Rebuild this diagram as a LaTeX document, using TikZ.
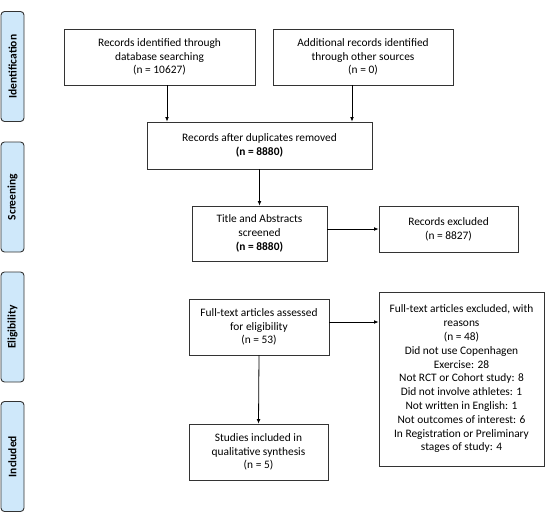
\documentclass[tikz,border=0pt]{standalone}
\usepackage{fontspec}
\setmainfont{Carlito}
\usetikzlibrary{arrows.meta}
\definecolor{sidefill}{HTML}{CFE8FA}
\definecolor{boxline}{HTML}{333333}
\tikzset{
  box/.style={draw=boxline, line width=0.8pt, fill=white, align=center, inner sep=2pt,
    font=\fontsize{11.4}{13.8}\selectfont},
  side/.style={draw=boxline, line width=0.9pt, fill=sidefill, rounded corners=3.5pt,
    minimum width=23pt, minimum height=110pt, inner sep=0pt},
  sidelab/.style={rotate=90, font=\fontsize{11.5}{13}\selectfont\bfseries},
  arr/.style={-{Latex[length=4.5pt,width=3.8pt]}, line width=0.8pt, draw=black}
}
\begin{document}
\begin{tikzpicture}[x=1pt,y=1pt]
\useasboundingbox (0,0) rectangle (559,-530);
% side labels
\node[side] (sid) at (12.5,-66.5) {};
\node[sidelab] (sidt) at (sid.center) {Identification};
\node[side] (sscr) at (12.5,-197) {};
\node[sidelab] (sscrt) at (sscr.center) {Screening};
\node[side] (selg) at (12.5,-327) {};
\node[sidelab] (selgt) at (selg.center) {Eligibility};
\node[side] (sinc) at (12.5,-456.5) {};
\node[sidelab] (sinct) at (sinc.center) {Included};
% boxes
\node[box, minimum width=191pt, minimum height=56pt] (b1) at (159.5,-57)
  {Records identified through\\database searching\\(n = 10627)};
\node[box, minimum width=180pt, minimum height=56pt] (b2) at (363,-57)
  {Additional records identified\\through other sources\\(n = 0)};
\node[box, minimum width=225pt, minimum height=47pt] (b3) at (259.5,-145.5)
  {Records after duplicates removed\\\textbf{(n = 8880)}};
\node[box, minimum width=135pt, minimum height=55pt] (b4) at (259.5,-233.5)
  {Title and Abstracts\\screened\\\textbf{(n = 8880)}};
\node[box, minimum width=139pt, minimum height=46pt] (b5) at (448.5,-229)
  {Records excluded\\(n = 8827)};
\node[box, minimum width=140pt, minimum height=56pt] (b6) at (259,-327)
  {Full-text articles assessed\\for eligibility\\(n = 53)};
\node[box, minimum width=165pt, minimum height=174pt, inner sep=4pt] (b7) at (461.5,-379)
  {Full-text articles excluded, with\\reasons\\(n = 48)\\Did not use Copenhagen\\Exercise: 28\\Not RCT or Cohort study: 8\\Did not involve athletes: 1\\Not written in English: 1\\Not outcomes of interest: 6\\In Registration or Preliminary\\stages of study: 4};
\node[box, minimum width=139pt, minimum height=56pt] (b8) at (258.5,-452)
  {Studies included in\\qualitative synthesis\\(n = 5)};
% arrows
\draw[arr] ([xshift=7.5pt]b1.south) -- ([xshift=7.5pt]b1.south |- b3.north);
\draw[arr] ([xshift=-11pt]b2.south) -- ([xshift=-11pt]b2.south |- b3.north);
\draw[arr] (b3.south) -- (b4.north);
\draw[arr] (b4.east |- b5.west) -- (b5.west);
\draw[arr] ([yshift=5pt]b6.east) -- ([yshift=5pt]b6.east -| b7.west);
\draw[arr] (b6.south) -- (b8.north);
\end{tikzpicture}
\end{document}
